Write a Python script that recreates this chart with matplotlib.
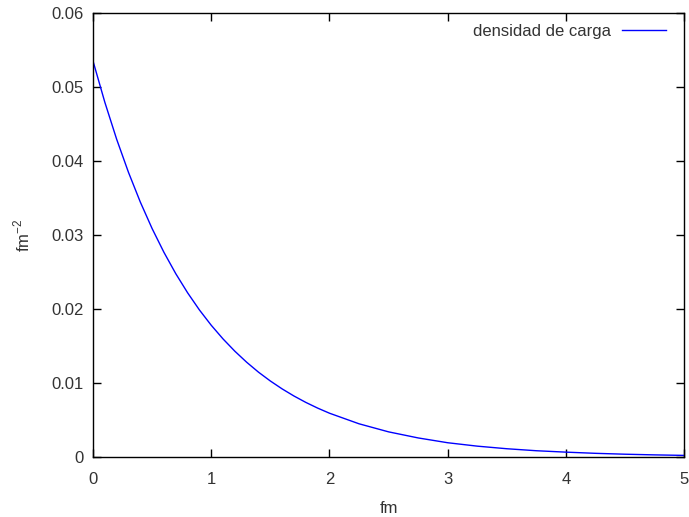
import numpy as np
import matplotlib.pyplot as plt

# =========================================
# DATA
# =========================================
r_fm = [0.0, 0.1, 0.2, 0.3, 0.4, 0.5, 0.6, 0.7, 0.8, 0.9,
        1.0, 1.1, 1.2, 1.3, 1.4, 1.5, 1.6, 1.7, 1.8, 1.9,
        2.0, 2.25, 2.5, 2.75, 3.0, 3.25, 3.5, 3.75, 4.0,
        4.25, 4.5, 4.75, 5.0]
densidad = [0.05350, 0.04793, 0.04293, 0.03846, 0.03445, 0.03086, 0.02765,
            0.02477, 0.02219, 0.01987, 0.01780, 0.01595, 0.01429, 0.01280,
            0.01146, 0.01027, 0.00920, 0.00824, 0.00738, 0.00661, 0.00592,
            0.00449, 0.00340, 0.00258, 0.00193, 0.00147, 0.00112, 0.00085,
            0.00066, 0.00050, 0.00038, 0.00029, 0.00022]

x_ticks = [0, 1, 2, 3, 4, 5]
y_ticks = [0, 0.01, 0.02, 0.03, 0.04, 0.05, 0.06]
y_tick_labels = ["0", "0.01", "0.02", "0.03", "0.04", "0.05", "0.06"]

# =========================================
# PLOT
# =========================================
plt.rcParams["font.family"] = ["Liberation Sans", "DejaVu Sans"]
plt.rcParams["mathtext.fontset"] = "custom"
plt.rcParams["mathtext.rm"] = "Liberation Sans"

fig = plt.figure(figsize=(6.89, 5.17), dpi=100)
ax = fig.add_axes([0.135, 0.116, 0.858, 0.859])

ax.plot(r_fm, densidad, color="#0000ff", linewidth=1.0, label="densidad de carga")

ax.set_xlim(0, 5)
ax.set_ylim(0, 0.06)
ax.set_xticks(x_ticks)
ax.set_yticks(y_ticks)
ax.set_yticklabels(y_tick_labels)

ax.tick_params(direction="in", length=6, width=1.0, top=True, right=True,
               labelsize=12, colors="black", labelcolor="#333333")
ax.tick_params(axis="x", pad=11)
ax.tick_params(axis="y", pad=7)
for spine in ax.spines.values():
    spine.set_linewidth(1.0)

ax.set_xlabel("fm", fontsize=12, color="#333333", labelpad=10)
ax.set_ylabel(r"fm$^{\mathregular{-2}}$", fontsize=12, color="#333333", labelpad=13)

leg = ax.legend(loc="upper right", bbox_to_anchor=(1 - 4.5 / 591, 1 + 2 / 444),
                frameon=False, markerfirst=False, fontsize=12,
                handlelength=2.64, borderaxespad=0.4, handletextpad=0.66)
for t in leg.get_texts():
    t.set_color("#333333")

plt.savefig("out.png", dpi=100)
plt.close()
